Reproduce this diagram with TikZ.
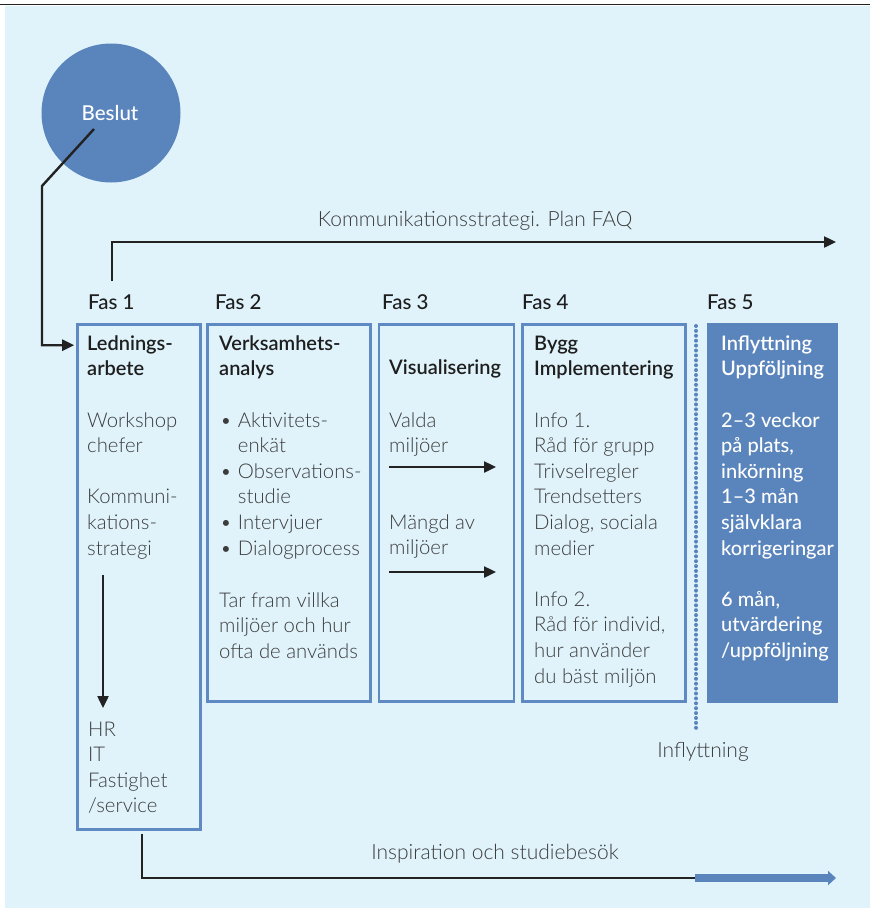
\documentclass[tikz,border=0pt]{standalone}
\usepackage{fontspec}
\setmainfont{Lato}
\newfontfamily\lightfont{Lato Light}
\newfontfamily\semifont{Lato Semibold}
\newfontfamily\mediumfont{Lato Medium}
\usetikzlibrary{arrows.meta,calc}

\definecolor{paper}{HTML}{E0F3FB}
\definecolor{phaseblue}{HTML}{5A84BC}
\definecolor{frameblue}{HTML}{5F89C2}
\definecolor{bodygray}{HTML}{3C3C3C}
\definecolor{titleink}{HTML}{1E1E1E}
\definecolor{lineink}{HTML}{222222}

% lines of a block, baseline of the block = baseline of its first line
\newcommand{\linestack}[1]{\begin{tabular}[t]{@{}l@{}}#1\end{tabular}}

\tikzset{
  phasebox/.style={draw=frameblue, line width=2.5pt, inner sep=0pt, anchor=north west},
  bodytext/.style={font=\lightfont\fontsize{20.3}{25.6}\selectfont, text=bodygray,
                   inner sep=0pt, anchor=base west},
  titletext/.style={font=\semifont\fontsize{20}{25.6}\selectfont, text=titleink,
                   inner sep=0pt, anchor=base west},
  whitetext/.style={font=\mediumfont\fontsize{20}{25.6}\selectfont, text=white,
                   inner sep=0pt, anchor=base west},
  whitetitle/.style={font=\semifont\fontsize{20}{25.6}\selectfont, text=white,
                   inner sep=0pt, anchor=base west},
  faslabel/.style={font=\mediumfont\fontsize{20.5}{25.6}\selectfont, text=titleink,
                   inner sep=0pt, anchor=base west},
  flowlabel/.style={font=\lightfont\fontsize{21}{25.6}\selectfont, text=bodygray,
                   inner sep=0pt, anchor=base},
  conn/.style={draw=lineink, line width=2.4pt,
               -{Triangle[length=12pt,width=11pt]}},
  plainconn/.style={draw=lineink, line width=2.4pt},
  bluearrow/.style={draw=phaseblue, line width=8pt,
               -{Triangle[length=8pt,width=14pt]}},
}

\begin{document}
\begin{tikzpicture}[x=1pt,y=-1pt]
  \useasboundingbox (0,0) rectangle (870,908);
  \fill[paper] (4.5,5.5) rectangle (870,908);
  \draw[lineink, line width=1.8pt] (0,4.5) -- (870,4.5);

  % decision circle
  \node[circle, fill=phaseblue, minimum size=139pt, inner sep=0pt] (beslut) at (111,113) {};
  \node[font=\mediumfont\fontsize{20.5}{25.6}\selectfont, text=white, inner sep=0pt] (beslutlabel) at (110,113) {Beslut};

  % phase boxes
  \node[phasebox, minimum width=123pt, minimum height=505pt] (box1) at (76.2,323.2) {};
  \node[phasebox, minimum width=163pt, minimum height=377pt] (box2) at (206.2,323.2) {};
  \node[phasebox, minimum width=135pt, minimum height=377pt] (box3) at (377.7,323.2) {};
  \node[phasebox, minimum width=163pt, minimum height=377pt] (box4) at (521.2,323.2) {};
  \node[fill=phaseblue, inner sep=0pt, anchor=north west,
        minimum width=131pt, minimum height=380pt] (box5) at (707,322.5) {};

  % phase labels
  \node[faslabel] (fas1) at (88,309) {Fas 1};
  \node[faslabel] (fas2) at (215,309) {Fas 2};
  \node[faslabel] (fas3) at (382,309) {Fas 3};
  \node[faslabel] (fas4) at (522,309) {Fas 4};
  \node[faslabel] (fas5) at (707,309) {Fas 5};

  % phase 1
  \node[titletext] (t1) at (87,350) {\linestack{Lednings-\\arbete}};
  \node[bodytext] (b1a) at (87,427) {\linestack{Workshop\\chefer\\[25.6pt]Kommuni-\\kations-\\strategi}};
  \node[bodytext] (b1b) at (88,736) {\linestack{HR\\IT\\Fastighet\\/service}};
  \coordinate (d1s) at (103,575);
  \coordinate (d1e) at (103,708);
  \draw[conn] (d1s) -- (d1e);

  % phase 2
  \node[titletext] (t2) at (219,350) {\linestack{Verksamhets-\\analys}};
  \node[bodytext] (b2a) at (220,427) {%
    \begin{tabular}[t]{@{}l@{\hspace{6pt}}l@{}}
      \textbullet & Aktivitets-\\
                  & enkät\\
      \textbullet & Observations-\\
                  & studie\\
      \textbullet & Intervjuer\\
      \textbullet & Dialogprocess
    \end{tabular}};
  \node[bodytext] (b2b) at (219,607) {\linestack{Tar fram villka\\miljöer och hur\\ofta de används}};

  % phase 3
  \node[titletext] (t3) at (389,374) {Visualisering};
  \node[bodytext] (b3a) at (389,427) {\linestack{Valda\\miljöer}};
  \node[bodytext] (b3b) at (389,529) {\linestack{Mängd av\\miljöer}};
  \coordinate (v1s) at (389,467);
  \coordinate (v1e) at (496,467);
  \coordinate (v2s) at (389,572);
  \coordinate (v2e) at (496,572);
  \draw[conn] (v1s) -- (v1e);
  \draw[conn] (v2s) -- (v2e);

  % phase 4
  \node[titletext] (t4) at (534,350) {\linestack{Bygg\\Implementering}};
  \node[bodytext] (b4) at (534,427) {\linestack{Info 1.\\Råd för grupp\\Trivselregler\\Trendsetters\\Dialog, sociala\\medier\\[25.6pt]Info 2.\\Råd för individ,\\hur använder\\du bäst miljön}};

  % move-in marker
  \coordinate (m0) at (696,326);
  \coordinate (m1) at (696,730);
  \draw[phaseblue, line width=4pt, line cap=round, dash pattern=on 0pt off 4.9pt] (m0) -- (m1);
  \node[flowlabel] (movein) at (703,757) {Inflyttning};

  % phase 5
  \node[whitetitle] (t5) at (721,350) {\linestack{Inflyttning\\Uppföljning}};
  \node[whitetext] (b5) at (721,427) {\linestack{2–3 veckor\\på plats,\\inkörning\\1–3 mån\\självklara\\korrigeringar\\[25.6pt]6 mån,\\utvärdering\\/uppföljning}};

  % decision feeds phase 1
  \coordinate (ds) at ($(beslut.center)+(-17,16)$);
  \coordinate (dk) at (42,186);
  \coordinate (din) at ($(box1.north west)+(-2,22)$);
  \draw[conn] (ds) -- (dk) |- (din);

  % communication strategy line
  \coordinate (k0) at ($(box1.north west)+(36,-42)$);
  \coordinate (k1) at (836,242);
  \draw[conn] (k0) |- (k1);
  \node[flowlabel] (komm) at (475,226) {Kommunikationsstrategi. Plan FAQ};

  % inspiration line
  \coordinate (i0) at ($(box1.south west)+(66,3)$);
  \coordinate (i1) at (695,878);
  \coordinate (i2) at (836,878);
  \draw[plainconn] (i0) |- (i1);
  \draw[bluearrow] (i1) -- (i2);
  \node[flowlabel] (insp) at (495,859) {Inspiration och studiebesök};
\end{tikzpicture}
\end{document}
